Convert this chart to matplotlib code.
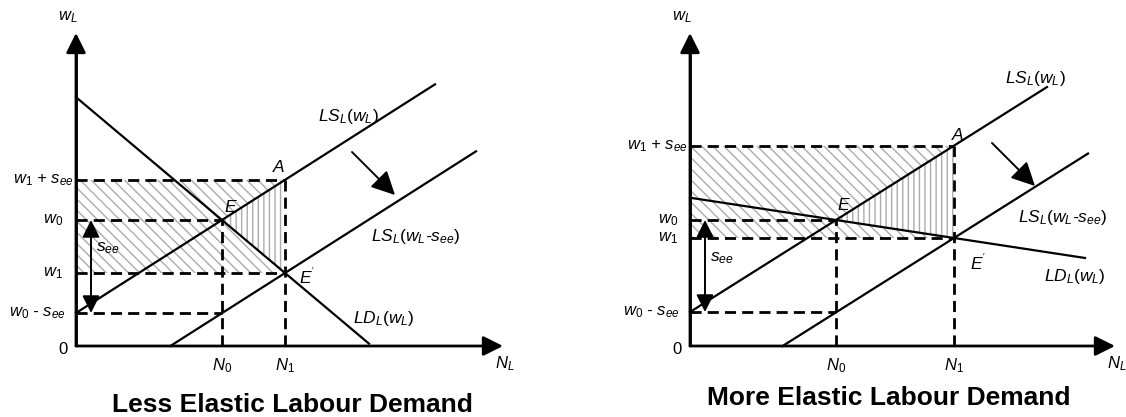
import numpy as np
import matplotlib
matplotlib.use('Agg')
import matplotlib.pyplot as plt

plt.rcParams['font.family'] = ['Liberation Sans', 'DejaVu Sans']
plt.rcParams['mathtext.fontset'] = 'custom'
plt.rcParams['mathtext.rm'] = 'Liberation Sans'
plt.rcParams['mathtext.it'] = 'Liberation Sans:italic'
plt.rcParams['mathtext.bf'] = 'Liberation Sans:bold'
plt.rcParams['hatch.linewidth'] = 1.0

# valores (unidades arbitrarias, origen en 0)
titles = ['Less Elastic Labour Demand', 'More Elastic Labour Demand']
N0 = [146, 146]
N1 = [209, 264]
w0 = [126, 126]
w1 = [73, 108]
s_ee = [93, 92]
ls_end = [359, 357]      # donde termina LS_L(w_L)
ls2_end = [400, 398]     # donde termina LS_L(w_L - s_ee)
ld_end = [293, 395]      # donde termina LD_L(w_L)
n_max = [427, 425]
w_max = [313, 313]

y_labels = [r'$\mathit{w_1}$ + $\mathit{s_{ee}}$', r'$\mathit{w_0}$', r'$\mathit{w_1}$',
            r'$\mathit{w_0}$ - $\mathit{s_{ee}}$']

fig = plt.figure(figsize=(11.26, 4.17), dpi=100)
ax1 = fig.add_axes([0, 0, 563 / 1126, 1])
ax2 = fig.add_axes([563 / 1126, 0, 563 / 1126, 1])
ax1.set_xlim(-76, 487)
ax2.set_xlim(-127, 436)
for ax in (ax1, ax2):
    ax.set_ylim(-71, 346)
    ax.axis('off')

hatch_col = '#ababab'
dash = (0, (4, 2.2))
txt = dict(fontsize=12.5, fontstyle='italic')
tick_txt = dict(fontsize=12, fontstyle='italic')


def arrow(ax, p0, p1, style, lw, ms):
    ax.annotate('', xy=p1, xytext=p0,
                arrowprops=dict(arrowstyle=style, lw=lw, color='k', mutation_scale=ms,
                                shrinkA=0, shrinkB=0))


def panel(ax, i, shift, label_pos):
    n0, n1, a0, a1, s = N0[i], N1[i], w0[i], w1[i], s_ee[i]
    b = s / n0                       # pendiente de la oferta
    d = (a0 - a1) / (n1 - n0)        # pendiente (negativa) de la demanda
    top = a1 + s

    # zonas rayadas
    ax.fill([0, n1, n0, n1, 0], [a1, a1, a0, top, top], facecolor='none',
            edgecolor=hatch_col, hatch='\\\\\\', linewidth=0)
    ax.fill([n0, n1, n1], [a0, top, a1], facecolor='none',
            edgecolor=hatch_col, hatch='|||', linewidth=0)

    # lineas discontinuas
    ax.plot([0, n1], [top, top], 'k', ls=dash, lw=2)
    ax.plot([0, n0], [a0, a0], 'k', ls=dash, lw=2)
    ax.plot([0, n1], [a1, a1], 'k', ls=dash, lw=2)
    ax.plot([0, n0], [a0 - s, a0 - s], 'k', ls=dash, lw=2)
    ax.plot([n0, n0], [0, a0], 'k', ls=dash, lw=2)
    ax.plot([n1, n1], [0, top], 'k', ls=dash, lw=2)

    # oferta, oferta desplazada y demanda
    n = np.array([0, ls_end[i]])
    ax.plot(n, a0 - s + b * n, 'k', lw=1.6)
    n_start = n1 - a1 / b
    n = np.array([n_start, ls2_end[i]])
    ax.plot(n, a1 + b * (n - n1), 'k', lw=1.6)
    ld0 = a0 + d * n0
    n = np.array([0, min(ld_end[i], ld0 / d)])
    ax.plot(n, ld0 - d * n, 'k', lw=1.6)

    # ejes
    arrow(ax, (0, 0), (0, w_max[i]), '-|>,head_length=0.8,head_width=0.4', 2, 15)
    arrow(ax, (0, 0), (n_max[i], 0), '-|>,head_length=0.8,head_width=0.4', 2, 15)
    ax.plot([0, 0], [0, w_max[i] - 5], 'k', lw=2, solid_capstyle='butt')

    # flechas
    arrow(ax, (15, a0), (15, a0 - s), '<|-|>,head_length=0.7,head_width=0.35', 1.4, 15)
    arrow(ax, shift[0], shift[1], '-|>,head_length=0.8,head_width=0.4', 1.4, 18)

    # etiquetas del eje vertical
    ys = [top, a0, a1, a0 - s]
    for lab, y, xr in zip(y_labels, ys, label_pos):
        ax.text(xr, y, lab, ha='right', va='center', **tick_txt)
    ax.text(-8, -4, '0', ha='right', va='center', fontsize=12)
    ax.text(-8, 329, r'$\mathit{w_L}$', ha='center', va='center', **tick_txt)
    ax.text(n0, -20, r'$\mathit{N_0}$', ha='center', va='center', **tick_txt)
    ax.text(n1, -20, r'$\mathit{N_1}$', ha='center', va='center', **tick_txt)
    ax.text(n_max[i] + 2, -18, r'$\mathit{N_L}$', ha='center', va='center', **tick_txt)


panel(ax1, 0, [(276, 194), (319, 151)], [-2, -13, -13, -10])
panel(ax2, 1, [(302, 203), (345, 160)], [-2, -12, -12, -10])

# nombres de curvas y puntos
ax1.text(272, 229, r'$\mathit{LS_L(w_L)}$', ha='center', va='center', **txt)
ax1.text(340, 109, r'$\mathit{LS_L(w_L}$-$\mathit{s_{ee})}$', ha='center', va='center', **txt)
ax1.text(308, 27, r'$\mathit{LD_L(w_L)}$', ha='center', va='center', **txt)
ax1.text(203, 179, 'A', ha='center', va='center', **txt)
ax1.text(154, 139, 'E', ha='center', va='center', **txt)
ax1.text(231, 70, r"$\mathit{E^{'}}$", ha='center', va='center', **txt)
ax1.text(32, 98, r'$\mathit{s_{ee}}$', ha='center', va='center', **txt)
ax1.text(216, -59, titles[0], ha='center', va='center', fontsize=19, fontweight='bold')

ax2.text(345, 268, r'$\mathit{LS_L(w_L)}$', ha='center', va='center', **txt)
ax2.text(373, 129, r'$\mathit{LS_L(w_L}$-$\mathit{s_{ee})}$', ha='center', va='center', **txt)
ax2.text(385, 70, r'$\mathit{LD_L(w_L)}$', ha='center', va='center', **txt)
ax2.text(268, 211, 'A', ha='center', va='center', **txt)
ax2.text(153, 141, 'E', ha='center', va='center', **txt)
ax2.text(288, 84, r"$\mathit{E^{'}}$", ha='center', va='center', **txt)
ax2.text(32, 88, r'$\mathit{s_{ee}}$', ha='center', va='center', **txt)
ax2.text(199, -52, titles[1], ha='center', va='center', fontsize=19, fontweight='bold')

fig.savefig('out.png', dpi=100)
